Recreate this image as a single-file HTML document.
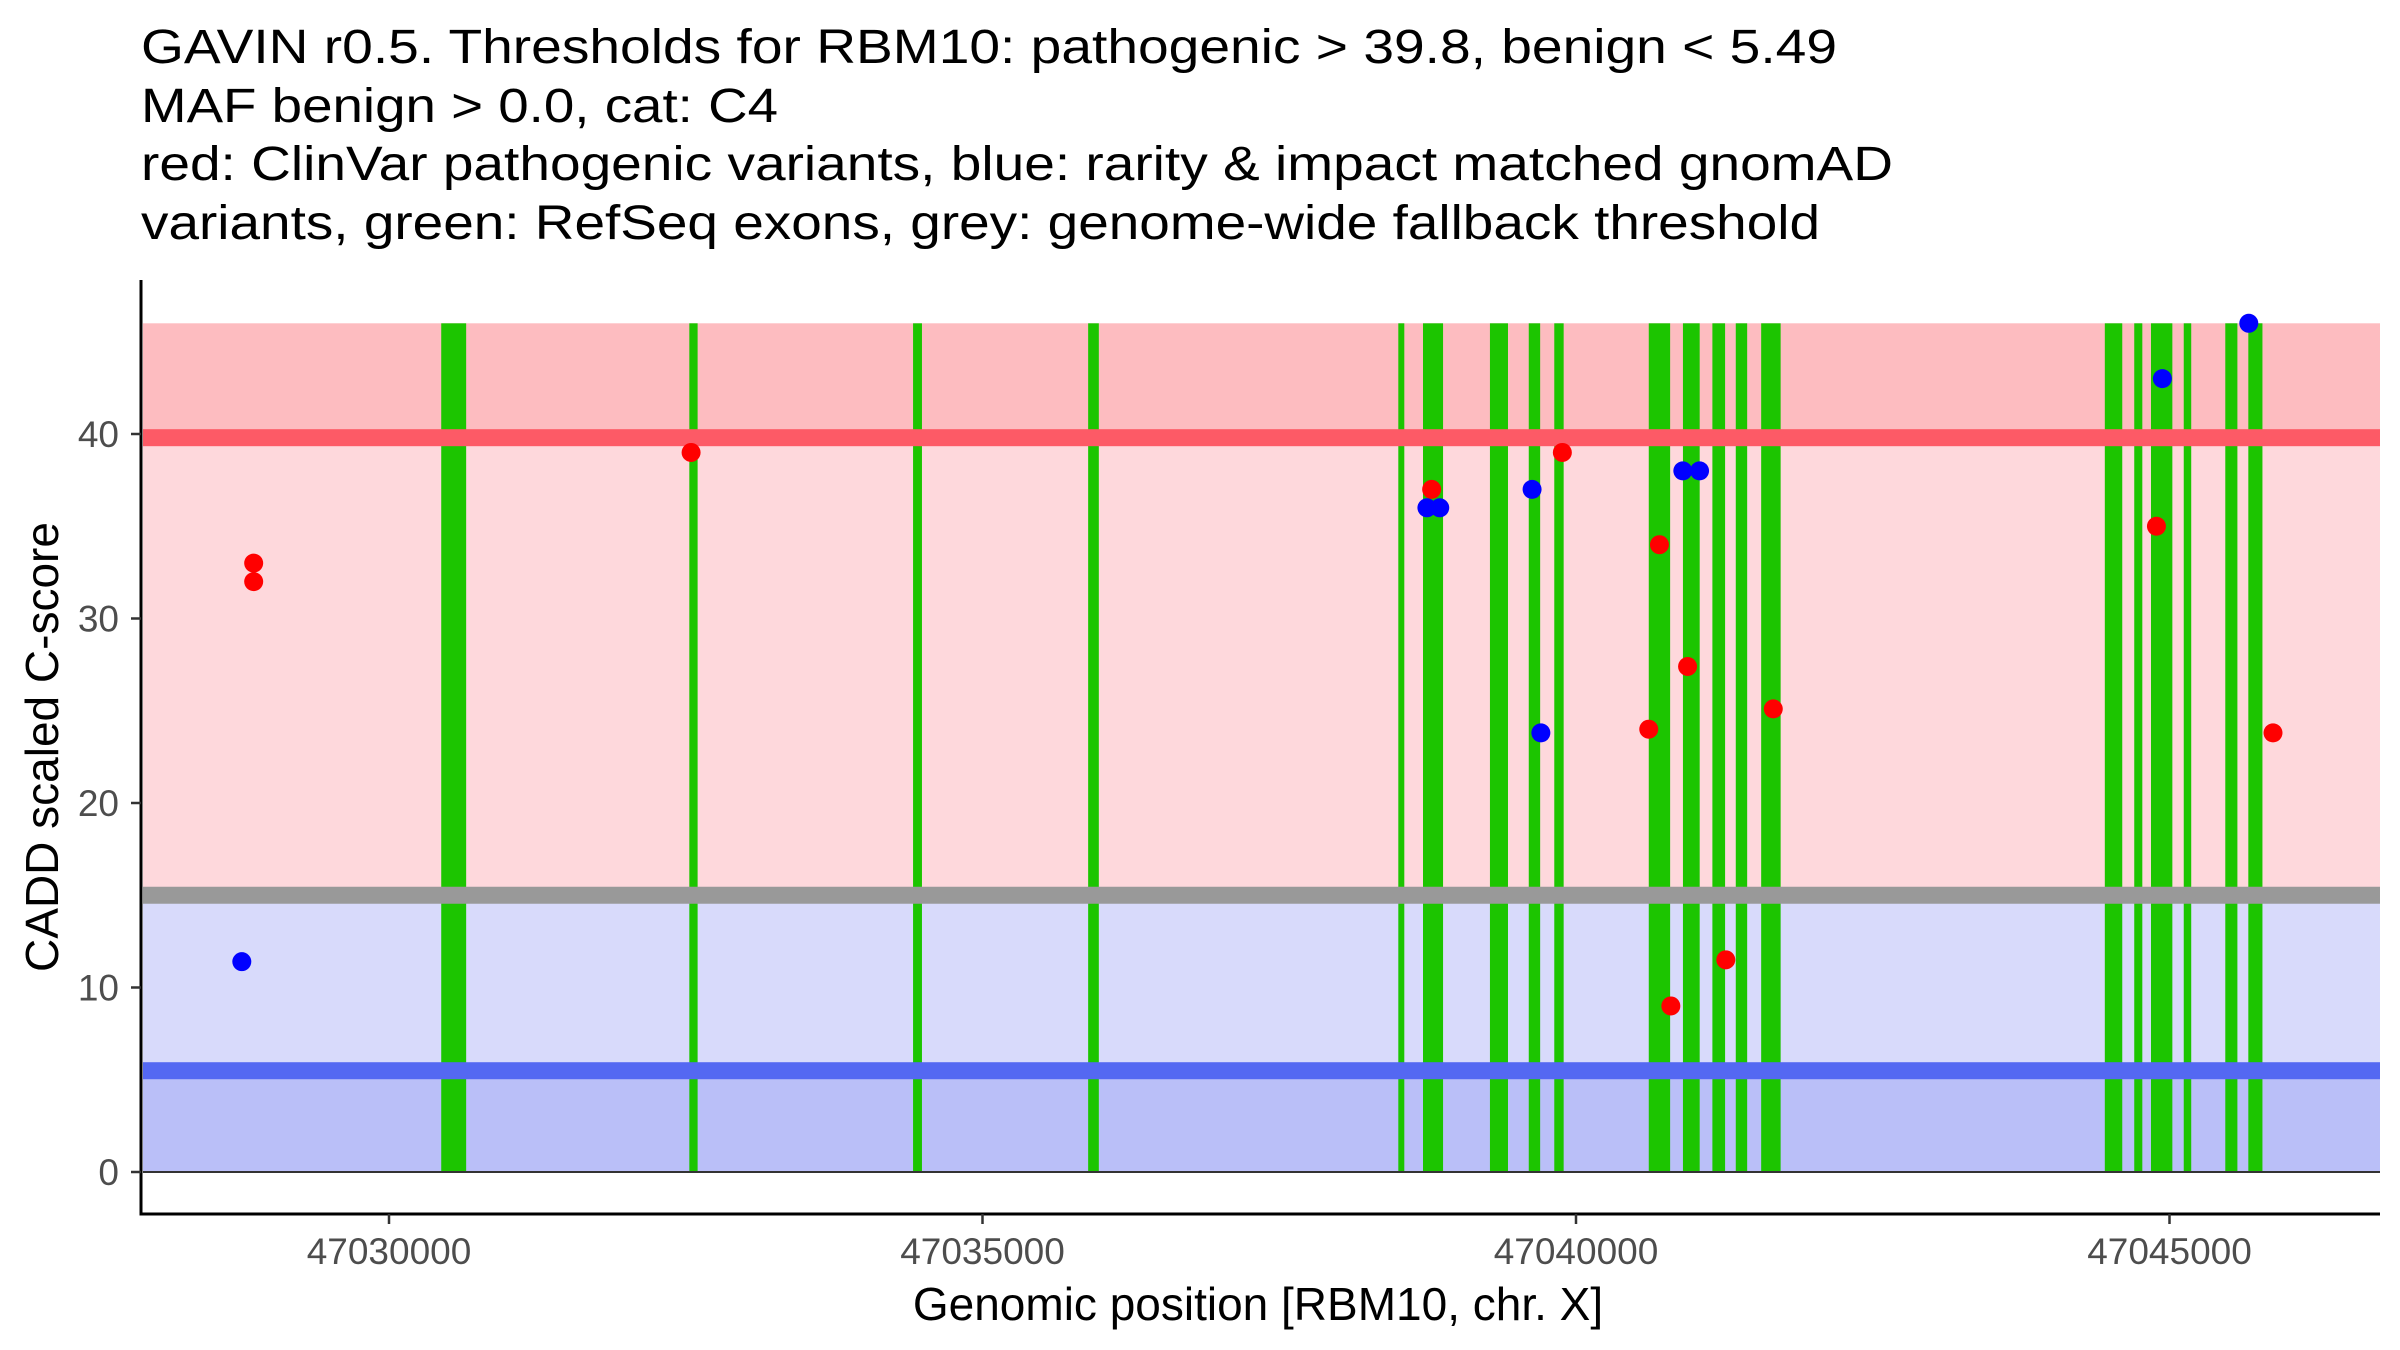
<!DOCTYPE html>
<html><head><meta charset="utf-8"><style>html,body{margin:0;padding:0;background:#fff}svg{display:block}</style></head>
<body>
<svg id="chart" width="2400" height="1350" xmlns="http://www.w3.org/2000/svg" font-family="'Liberation Sans', sans-serif">
<g font-size="48" fill="#000">
<text x="141" y="63" textLength="1696" lengthAdjust="spacingAndGlyphs">GAVIN r0.5. Thresholds for RBM10: pathogenic &gt; 39.8, benign &lt; 5.49</text>
<text x="141" y="122" textLength="637" lengthAdjust="spacingAndGlyphs">MAF benign &gt; 0.0, cat: C4</text>
<text x="141" y="180" textLength="1752" lengthAdjust="spacingAndGlyphs">red: ClinVar pathogenic variants, blue: rarity &amp; impact matched gnomAD</text>
<text x="141" y="239" textLength="1679" lengthAdjust="spacingAndGlyphs">variants, green: RefSeq exons, grey: genome-wide fallback threshold</text>
</g>
<g id="bands"></g><g id="exons"></g><g id="refline"></g><g id="points"></g><g id="axes"></g>
</svg>
<script>
const exonStarts=[47030440,47032530,47034415,47035890,47038503,47038711,47039275,47039602,47039817,47040613,47040901,47041149,47041346,47041560,47044455,47044703,47044844,47045120,47045470,47045664];
const exonEnds=[47030650,47032600,47034490,47035980,47038553,47038880,47039427,47039698,47039896,47040793,47041042,47041256,47041442,47041724,47044602,47044771,47045024,47045183,47045572,47045783];
const redPos=[47028860,47028860,47032545,47038784,47039885,47040703,47040613,47040940,47040799,47041262,47041662,47044890,47045872];
const redVal=[33,32,39,37,39,34,24,27.4,9,11.5,25.1,35,23.8];
const bluePos=[47028760,47038744,47038852,47039630,47039704,47040900,47041041,47044940,47045668];
const blueVal=[11.4,36,36,37,23.8,38,38,43,46];
const xTicks=[47030000,47035000,47040000,47045000];
const yTicks=[0,10,20,30,40];
const pathoThr=39.8, benignThr=5.49, fallbackThr=15, yTop=46;

const NS='http://www.w3.org/2000/svg';
const X0=141,X1=2380,YB=1214,YT=280;
function sx(p){return 389+(p-47030000)*0.1187;}
function sy(v){return 1172-v*18.45;}
function mk(parent,tag,attrs){const e=document.createElementNS(NS,tag);for(const k in attrs)e.setAttribute(k,attrs[k]);document.getElementById(parent).appendChild(e);return e;}
function rect(parent,x,y,w,h,fill,name){const r=mk(parent,'rect',{x:x,y:y,width:w,height:h,fill:fill});


return r;}
const L=X0+2,W=X1-L;
rect('bands',L,sy(yTop),W,sy(pathoThr)-sy(yTop),'#fdbcc0','pathogenic-high-band');
rect('bands',L,sy(pathoThr),W,sy(fallbackThr)-sy(pathoThr),'#fed8dc','pathogenic-band');
rect('bands',L,sy(fallbackThr),W,sy(benignThr)-sy(fallbackThr),'#d8dafb','benign-band');
rect('bands',L,sy(benignThr),W,sy(0)-sy(benignThr),'#babff8','benign-low-band');
exonStarts.forEach((s,i)=>{const x=sx(s),w=Math.max(sx(exonEnds[i])-x,6);
rect('exons',x,sy(yTop),w,sy(0)-sy(yTop),'#1cc500','exon-bar');});
rect('refline',L,sy(pathoThr)-8.5,W,17,'#fd5a66','pathogenic-threshold-line');
rect('refline',L,sy(fallbackThr)-8.5,W,17,'#999999','fallback-threshold-line');
rect('refline',L,sy(benignThr)-8.5,W,17,'#5468f2','benign-threshold-line');
rect('refline',L,sy(0)-1,W,2,'#333333','zero-line');
redPos.forEach((p,i)=>{const c=mk('points','circle',{cx:sx(p),cy:sy(redVal[i]),r:9.5,fill:'#ff0000'});

});
bluePos.forEach((p,i)=>{const c=mk('points','circle',{cx:sx(p),cy:sy(blueVal[i]),r:9.5,fill:'#0000ff'});

});
const ya=mk('axes','line',{x1:X0,y1:YT,x2:X0,y2:YB+1.5,stroke:'#000','stroke-width':3});


const xa=mk('axes','line',{x1:X0-1.5,y1:YB,x2:X1,y2:YB,stroke:'#000','stroke-width':3});


yTicks.forEach(v=>{mk('axes','line',{x1:X0-10,y1:sy(v),x2:X0,y2:sy(v),stroke:'#333','stroke-width':2.5});
const t=mk('axes','text',{x:X0-22,y:sy(v)+13,'text-anchor':'end','font-size':37,fill:'#4d4d4d'});t.textContent=v;

});
xTicks.forEach(v=>{mk('axes','line',{x1:sx(v),y1:YB,x2:sx(v),y2:YB+10,stroke:'#333','stroke-width':2.5});
const t=mk('axes','text',{x:sx(v),y:YB+50,'text-anchor':'middle','font-size':37,fill:'#4d4d4d'});t.textContent=v;

});
const xt=mk('axes','text',{x:1258,y:1320,'text-anchor':'middle','font-size':46,fill:'#000'});xt.textContent='Genomic position [RBM10, chr. X]';


const yt=mk('axes','text',{x:0,y:0,'text-anchor':'middle','font-size':46,fill:'#000',transform:'translate(58,747) rotate(-90)'});yt.textContent='CADD scaled C-score';


</script>
</body></html>
